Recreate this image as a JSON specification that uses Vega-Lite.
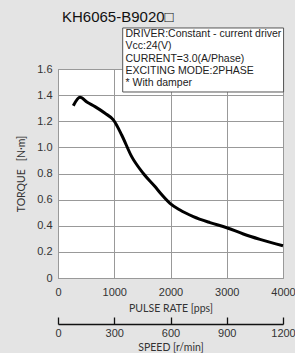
{
  "$schema": "https://vega.github.io/schema/vega-lite/v6.json",
  "width": 225,
  "height": 209,
  "autosize": "none",
  "padding": {"left": 58, "top": 69, "right": 12, "bottom": 75},
  "background": "#e4e4e4",
  "config": {
    "view": {"fill": "white", "stroke": "#8a8a8a", "strokeWidth": 1},
    "axis": {
      "labelFont": "Liberation Sans",
      "labelFontSize": 11,
      "labelColor": "#333333",
      "titleFont": "Lato",
      "titleFontSize": 10.5,
      "titleFontWeight": "normal",
      "titleColor": "#333333",
      "gridColor": "#999999",
      "gridWidth": 1,
      "gridOpacity": 1
    }
  },
  "resolve": {"scale": {"x": "independent", "y": "independent"}},
  "layer": [
    {
      "data": {
        "values": [
          {"pulse": 272, "torque": 1.319},
          {"pulse": 391, "torque": 1.384},
          {"pulse": 520, "torque": 1.345},
          {"pulse": 658, "torque": 1.312},
          {"pulse": 836, "torque": 1.261},
          {"pulse": 984, "torque": 1.21},
          {"pulse": 1132, "torque": 1.095},
          {"pulse": 1310, "torque": 0.929},
          {"pulse": 1517, "torque": 0.8},
          {"pulse": 1724, "torque": 0.7},
          {"pulse": 1830, "torque": 0.645},
          {"pulse": 1991, "torque": 0.572},
          {"pulse": 2169, "torque": 0.52},
          {"pulse": 2406, "torque": 0.47},
          {"pulse": 2702, "torque": 0.424},
          {"pulse": 3000, "torque": 0.385},
          {"pulse": 3295, "torque": 0.337},
          {"pulse": 3591, "torque": 0.296},
          {"pulse": 4000, "torque": 0.247}
        ]
      },
      "mark": {"type": "line", "interpolate": "monotone", "color": "black", "strokeWidth": 3},
      "encoding": {
        "x": {
          "field": "pulse",
          "type": "quantitative",
          "scale": {"domain": [0, 4000], "nice": false},
          "axis": {
            "orient": "bottom",
            "values": [0, 1000, 2000, 3000, 4000],
            "format": "d",
            "title": "PULSE RATE [pps]",
            "grid": true,
            "ticks": false,
            "domain": false,
            "labelPadding": 8,
            "titlePadding": 6,
            "labelFlush": false
          }
        },
        "y": {
          "field": "torque",
          "type": "quantitative",
          "scale": {"domain": [0, 1.6], "nice": false},
          "axis": {
            "orient": "left",
            "values": [0, 0.2, 0.4, 0.6, 0.8, 1.0, 1.2, 1.4, 1.6],
            "labelExpr": "datum.value == 0 ? '0' : format(datum.value, '.1f')",
            "labelOverlap": false,
            "title": "TORQUE\u2003[N·m]",
            "grid": true,
            "ticks": false,
            "domain": false,
            "labelPadding": 6,
            "titlePadding": 10
          }
        }
      }
    },
    {
      "data": {"values": [{}]},
      "mark": {"type": "rect", "fill": "white", "stroke": "#555555", "strokeWidth": 1},
      "encoding": {
        "x": {"datum": 1150, "type": "quantitative", "scale": {"domain": [0, 4000], "nice": false}, "axis": null},
        "x2": {"datum": 4010},
        "y": {"datum": 1.914, "type": "quantitative", "scale": {"domain": [0, 1.6], "nice": false}, "axis": null},
        "y2": {"datum": 1.424}
      }
    },
    {
      "data": {"values": [{}]},
      "mark": {
        "type": "text",
        "align": "left",
        "baseline": "top",
        "font": "Liberation Sans",
        "fontSize": 10.5,
        "lineHeight": 12.2,
        "color": "#222222",
        "text": [
          "DRIVER:Constant - current driver",
          "Vcc:24(V)",
          "CURRENT=3.0(A/Phase)",
          "EXCITING MODE:2PHASE",
          "* With damper"
        ]
      },
      "encoding": {
        "x": {"datum": 1200, "type": "quantitative", "scale": {"domain": [0, 4000], "nice": false}, "axis": null},
        "y": {"datum": 1.905, "type": "quantitative", "scale": {"domain": [0, 1.6], "nice": false}, "axis": null}
      }
    },
    {
      "data": {"values": [{}]},
      "mark": {
        "type": "text",
        "align": "left",
        "baseline": "middle",
        "font": "Liberation Sans",
        "fontSize": 15,
        "color": "#111111",
        "text": "KH6065-B9020□"
      },
      "encoding": {
        "x": {"datum": 71, "type": "quantitative", "scale": {"domain": [0, 4000], "nice": false}, "axis": null},
        "y": {"datum": 2.0, "type": "quantitative", "scale": {"domain": [0, 1.6], "nice": false}, "axis": null}
      }
    },
    {
      "data": {"values": [{"speed": 0}, {"speed": 1200}]},
      "mark": {"type": "point", "opacity": 0},
      "encoding": {
        "x": {
          "field": "speed",
          "type": "quantitative",
          "scale": {"domain": [0, 1200], "nice": false},
          "axis": {
            "orient": "bottom",
            "offset": 46,
            "values": [0, 300, 600, 900, 1200],
            "format": "d",
            "title": "SPEED [r/min]",
            "grid": false,
            "domain": true,
            "domainColor": "#111111",
            "domainWidth": 1.3,
            "ticks": true,
            "tickColor": "#111111",
            "tickWidth": 1.3,
            "tickSize": -7,
            "labelPadding": 10,
            "titlePadding": 4,
            "labelFlush": false
          }
        }
      }
    }
  ]
}
